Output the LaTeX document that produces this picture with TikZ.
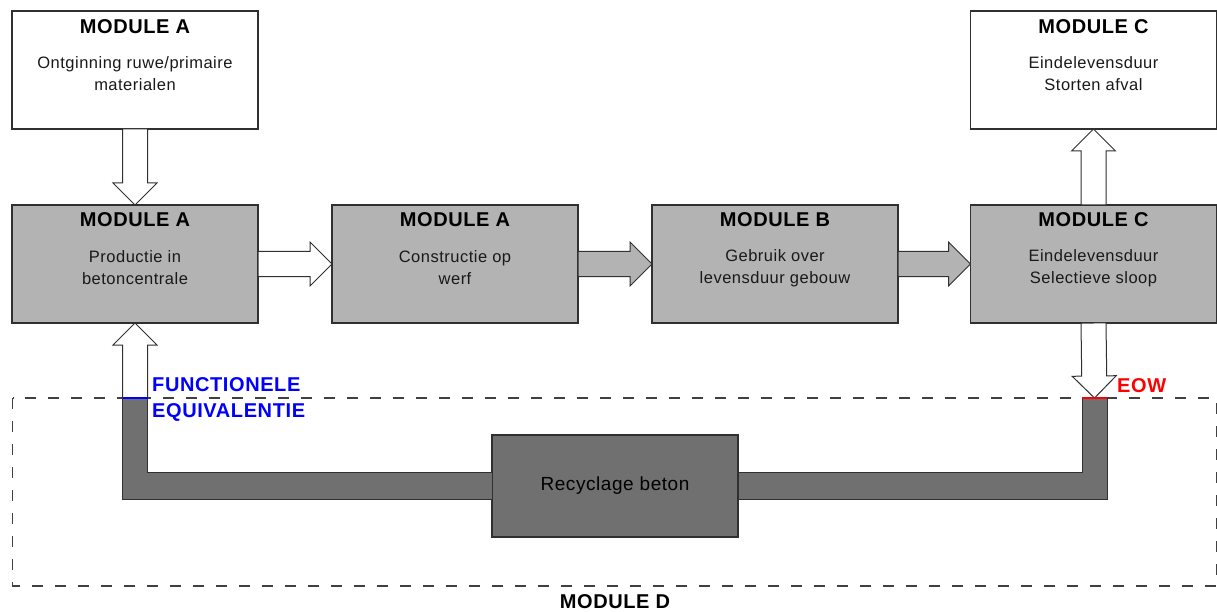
\documentclass[tikz,border=0pt]{standalone}
\usepackage{fontspec}
\setmainfont{Liberation Sans}[LetterSpace=3]
\usetikzlibrary{calc}

\definecolor{edge}{HTML}{303030}
\definecolor{boxgrey}{HTML}{B3B3B3}
\definecolor{darkgrey}{HTML}{707070}
\definecolor{dashgrey}{HTML}{404040}
\definecolor{feblue}{HTML}{0000FF}
\definecolor{eowred}{HTML}{FF0000}

% block arrow from #2 to #3, filled with #1
\newcommand\blockarrow[3]{%
  \coordinate (ba-h) at ($(#3)!22pt!(#2)$);
  \draw[blockarr, fill=#1]
    ($(#2)!12.5pt!90:(#3)$) -- ($(ba-h)!12.5pt!90:(#3)$) -- ($(ba-h)!22pt!90:(#3)$)
    -- (#3)
    -- ($(ba-h)!22pt!-90:(#3)$) -- ($(ba-h)!12.5pt!-90:(#3)$) -- ($(#2)!12.5pt!-90:(#3)$)
    -- cycle;}

\tikzset{
  modbox/.style={draw=edge, line width=1.2pt, minimum width=246pt, minimum height=118pt,
                 inner sep=0pt, outer sep=0pt},
  whitebox/.style={modbox, fill=white},
  greybox/.style={modbox, fill=boxgrey},
  recbox/.style={draw=edge, line width=1.2pt, fill=darkgrey, minimum width=246pt,
                 minimum height=102pt, inner sep=0pt, outer sep=0pt,
                 font=\fontsize{19}{22}\selectfont, text=black},
  modtitle/.style={font=\bfseries\fontsize{20}{24}\selectfont, inner sep=0pt},
  modbody/.style={font=\fontsize{16.5}{22}\selectfont, align=center, inner sep=0pt, text=black!90},
  blockarr/.style={draw=edge, line width=1pt, line join=miter},
  band/.style={draw=edge, line width=1pt, fill=darkgrey},
  moddash/.style={draw=dashgrey, line width=1.4pt, dash pattern=on 11pt off 12pt},
  flowlabel/.style={font=\bfseries\fontsize{20}{26}\selectfont, inner sep=0pt, align=left},
}

\begin{document}
\begin{tikzpicture}[x=1pt, y=-1pt]
\useasboundingbox (0,0) rectangle (1217,612);

% module D frame
\draw[moddash] (12.7,398) rectangle (1216.3,586);
\node[modtitle] (labelD) at (615,602) {MODULE D};

% module boxes
\node[whitebox] (extract)  at (135,70)    {};
\node[whitebox] (landfill) at (1093.5,70) {};
\node[greybox]  (prod)     at (135,264)   {};
\node[greybox]  (constr)   at (455,264)   {};
\node[greybox]  (use)      at (775,264)   {};
\node[greybox]  (demol)    at (1093.5,264) {};

% box texts
\node[modtitle] at ($(extract.north)+(0,16)$)  {MODULE A};
\node[modbody]  at ($(extract.north)+(0,63)$)  {Ontginning ruwe/primaire\\materialen};
\node[modtitle] at ($(landfill.north)+(0,16)$) {MODULE C};
\node[modbody]  at ($(landfill.north)+(0,63)$) {Eindelevensduur\\Storten afval};
\node[modtitle] at ($(prod.north)+(0,15)$)     {MODULE A};
\node[modbody]  at ($(prod.north)+(0,63)$)     {Productie in\\betoncentrale};
\node[modtitle] at ($(constr.north)+(0,15)$)   {MODULE A};
\node[modbody]  at ($(constr.north)+(0,63)$)   {Constructie op\\werf};
\node[modtitle] at ($(use.north)+(0,15)$)      {MODULE B};
\node[modbody]  at ($(use.north)+(0,63)$)      {Gebruik over\\levensduur gebouw};
\node[modtitle] at ($(demol.north)+(0,15)$)    {MODULE C};
\node[modbody]  at ($(demol.north)+(0,63)$)    {Eindelevensduur\\Selectieve sloop};

% recycling
\node[recbox] (recycle) at (615,486) {Recyclage beton};

% end points of the loop on the frame
\coordinate (fe)  at (prod.south |- 0,398);
\coordinate (eow) at ($(demol.south |- 0,398)+(1,0)$);

% grey loop bands into the recycling box
\draw[band] let \p1=(fe), \p2=(recycle.west) in
  (\x1-12.5pt,\y1) -- (\x1-12.5pt,\y2-13.5pt) -- (\x2,\y2-13.5pt) -- (\x2,\y2+13.5pt)
  -- (\x1+12.5pt,\y2+13.5pt) -- (\x1+12.5pt,\y1) -- cycle;
\draw[band] let \p1=(eow), \p2=(recycle.east) in
  (\x1+12.5pt,\y1) -- (\x1+12.5pt,\y2-13.5pt) -- (\x2,\y2-13.5pt) -- (\x2,\y2+13.5pt)
  -- (\x1-12.5pt,\y2+13.5pt) -- (\x1-12.5pt,\y1) -- cycle;

% flow arrows
\blockarrow{white}{extract.south}{prod.north}
\blockarrow{white}{prod.east}{constr.west}
\blockarrow{boxgrey}{constr.east}{use.west}
\blockarrow{boxgrey}{use.east}{demol.west}
\blockarrow{white}{demol.north}{landfill.south}
\blockarrow{white}{demol.south}{eow}
\blockarrow{white}{fe}{prod.south}

% boundary marks
\draw[feblue, line width=1.2pt]  ($(fe)+(-12.5,0)$) -- ($(fe)+(12.5,0)$);
\draw[eowred, line width=1.2pt] ($(eow)+(-12.5,0)$) -- ($(eow)+(12.5,0)$);

\node[flowlabel, text=feblue, anchor=west] (felabel) at (152,399) {FUNCTIONELE\\EQUIVALENTIE};
\node[flowlabel, text=eowred, anchor=west] (eowlabel) at (1117,386) {EOW};
\end{tikzpicture}
\end{document}
